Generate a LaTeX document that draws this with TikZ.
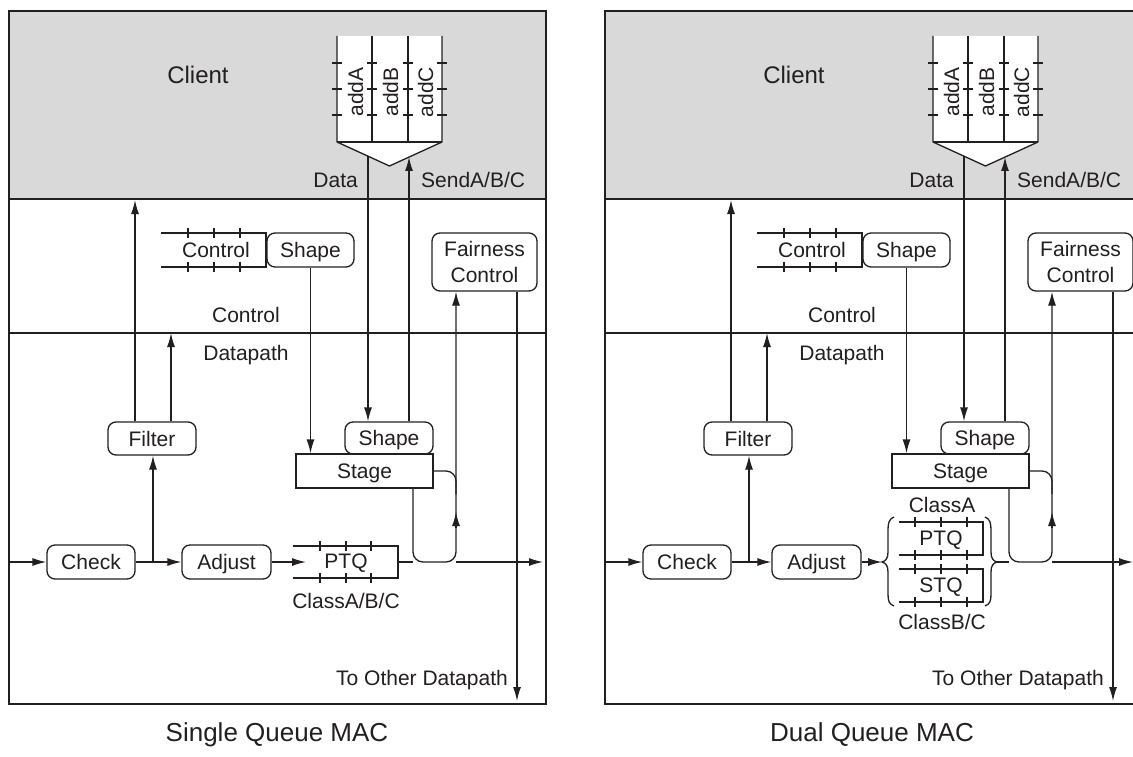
\documentclass[tikz,border=0pt]{standalone}
\usepackage{fontspec}
\setmainfont{Liberation Sans}
\usetikzlibrary{arrows.meta}
\definecolor{ink}{HTML}{231F20}
\definecolor{clientgrey}{HTML}{D9D9D9}
\tikzset{
  txt/.style={font=\fontsize{21}{26}\selectfont, text=ink, inner sep=0pt, text height=15pt, text depth=0pt},
  rbox/.style={txt, draw=ink, line width=1.3pt, rounded corners=8pt, minimum height=34pt},
  sbox/.style={txt, draw=ink, line width=1.3pt, minimum height=34pt},
  ln/.style={draw=ink, line width=1.3pt},
  arr/.style={ln, -{Latex[length=14pt,width=8pt]}},
  frame/.style={draw=ink, line width=2.4pt},
  bigtxt/.style={font=\fontsize{24}{28}\selectfont, text=ink, inner sep=0pt, text height=17pt, text depth=0pt},
}
\newcommand\hticks[2]{\foreach \xx in {#1}{\foreach \yy in {#2}{\draw[ln] (\xx,\yy-5) -- (\xx,\yy+5);}}}
\newcommand\panelcommon[1]{%
  % client area and frame
  \fill[clientgrey] (9,11) rectangle (546,199);
  \draw[ln] (9,333) -- (546,333);
  \draw[ink, line width=1.8pt] (9,199) -- (546,199);
  \draw[frame] (9,11) rectangle (546,704);
  \node[bigtxt] (client) at (198,75) {Client};
  % address chevron
  \draw[ln, fill=white] (337,36) -- (337,142) -- (389.5,166) -- (442,142) -- (442,36);
  \draw[ln] (337,142) -- (442,142);
  \draw[ln] (372,36) -- (372,142);
  \draw[ln] (408,36) -- (408,142);
  \foreach \xx in {337,372,408,442}{\foreach \yy in {63,89,115}{\draw[ln] (\xx-5,\yy) -- (\xx+5,\yy);}}
  \node[txt, rotate=90] (addA) at (355.5,92) {addA};
  \node[txt, rotate=90] (addB) at (390.5,92) {addB};
  \node[txt, rotate=90] (addC) at (425.5,92) {addC};
  \node[txt, anchor=east] (data) at (358,180) {Data};
  \node[txt, anchor=west] (send) at (421,180) {SendA/B/C};
  % control plane
  \draw[ln] (161,233) -- (266,233) -- (266,267) -- (161,267);
  \hticks{188,214,240}{233,267}
  \node[txt] (ctlq) at (216,250) {Control};
  \node[rbox, minimum width=87pt] (shp1) at (310.5,250) {Shape};
  \node[font=\fontsize{21}{26}\selectfont, text=ink, inner sep=0pt, align=center,
        draw=ink, line width=1.3pt, rounded corners=8pt, minimum width=105pt, minimum height=58pt]
        (fair) at (484.5,262) {Fairness\\Control};
  \node[txt] (lctl) at (246,314.5) {Control};
  \node[txt] (ldp) at (246,352.5) {Datapath};
  % datapath
  \node[rbox, minimum width=88pt] (chk) at (91,562) {Check};
  \node[rbox, minimum width=89pt] (adj) at (#1,562) {Adjust};
  \node[rbox, minimum width=88pt, minimum height=33pt] (flt) at (152,438.5) {Filter};
  \node[sbox, minimum width=137pt] (stg) at (364.5,471) {Stage};
  \node[rbox, minimum width=88pt, minimum height=32pt] (shp2) at (389,438) {Shape};
  \node[txt, anchor=east] (toother) at (508,678) {To Other Datapath};
  % connectors
  \coordinate (inL) at (9,562);
  \coordinate (jn) at (153,562);
  \coordinate (fl1) at (135,200);
  \coordinate (fl2) at (171,333);
  \coordinate (dtop) at (368,156);
  \coordinate (stop) at (409,157);
  \coordinate (fu) at (456,562);
  \coordinate (lp) at (413,562);
  \coordinate (fd) at (517,701);
  \coordinate (srj) at (456,494);
  \draw[arr] (inL) -- (chk.west);
  \draw[arr] (chk.east) -- (adj.west);
  \draw[arr] (jn) -- (flt.south -| jn);
  \draw[arr] (flt.north -| fl1) -- (fl1);
  \draw[arr] (flt.north -| fl2) -- (fl2);
  \draw[arr] (dtop) -- (shp2.north -| dtop);
  \draw[arr] (shp2.north -| stop) -- (stop);
  \draw[arr] (shp1.south) -- (shp1.south |- stg.north);
  \draw[arr] (fair.south -| fd) -- (fd);
  \draw[arr, rounded corners=10pt] (stg.south -| lp) -- (lp) -- (fu) -- (fair.south -| fu);
  \draw[arr] ([yshift=34pt]fu) -- ([yshift=50pt]fu);
  \draw[ln, rounded corners=10pt] (stg.east) -- (stg.east -| srj) -- (srj);
}
\begin{document}
\begin{tikzpicture}[x=1pt, y=-1pt]
\clip (0,0) rectangle (1133,757);
\fill[white] (0,0) rectangle (1133,757);
% ---------------- left: single queue ----------------
\begin{scope}[name prefix=L-]
  \panelcommon{226.5}
  \draw[ln] (293,546) -- (398,546) -- (398,578) -- (293,578);
  \hticks{320,346,371}{546,578}
  \node[txt] (ptq) at (346,561) {PTQ};
  \node[txt] (cls) at (346,601) {ClassA/B/C};
  \coordinate (qin) at (306,562);
  \coordinate (qout) at (398,562);
  \coordinate (outR) at (543,562);
  \draw[arr] (adj.east) -- (qin);
  \draw[ln] (qout) -- (lp);
  \draw[arr] (fu) -- (outR);
\end{scope}
\node[bigtxt, font=\fontsize{26}{30}\selectfont] (t1) at (277,733) {Single Queue MAC};
% ---------------- right: dual queue ----------------
\begin{scope}[shift={(596,0)}, name prefix=R-]
  \panelcommon{220.5}
  \draw[ln] (303,522) -- (387,522) -- (387,555) -- (303,555);
  \draw[ln] (303,569) -- (387,569) -- (387,602) -- (303,602);
  \hticks{319,345,371}{522,555,569,602}
  \node[txt] (ptq) at (345,538) {PTQ};
  \node[txt] (stq) at (345,585) {STQ};
  \node[txt] (clsA) at (346,505) {ClassA};
  \node[txt] (clsB) at (346,622) {ClassB/C};
  \draw[ln] (298,517) .. controls (293,519) and (292,523) .. (292,530) -- (292,552)
            .. controls (292,558) and (290,561) .. (286,562)
            .. controls (290,563) and (292,566) .. (292,572) -- (292,594)
            .. controls (292,601) and (293,604) .. (298,606);
  \draw[ln] (389,517) .. controls (394,519) and (395,523) .. (395,530) -- (395,552)
            .. controls (395,558) and (397,561) .. (401,562)
            .. controls (397,563) and (395,566) .. (395,572) -- (395,594)
            .. controls (395,601) and (394,604) .. (389,606);
  \coordinate (brL) at (286,562);
  \coordinate (brR) at (401,562);
  \coordinate (outR) at (537,562);
  \draw[arr] (adj.east) -- (brL);
  \draw[ln] (brR) -- (lp);
  \draw[arr] (fu) -- (outR);
\end{scope}
\node[bigtxt, font=\fontsize{26}{30}\selectfont] (t2) at (872,733) {Dual Queue MAC};
\end{tikzpicture}
\end{document}
